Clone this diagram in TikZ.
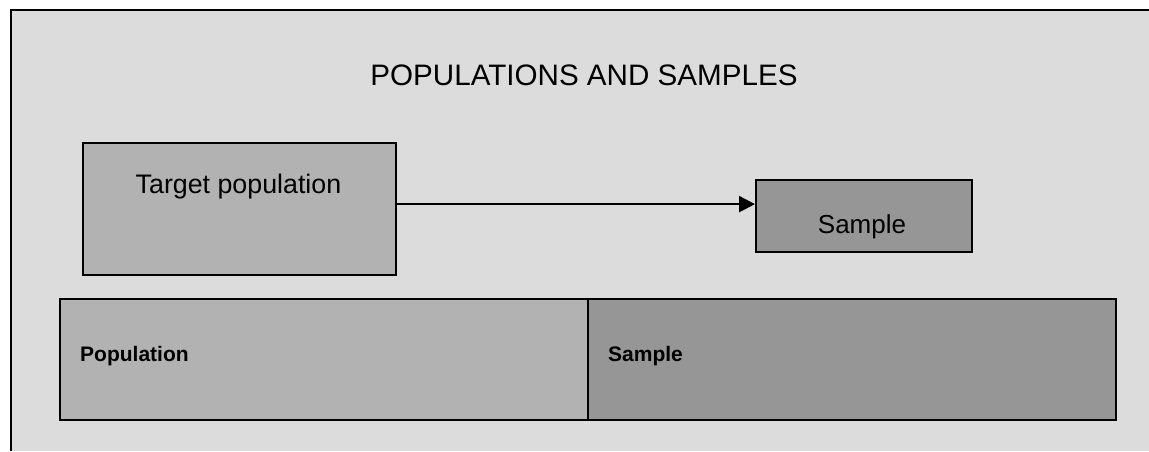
\documentclass[tikz,border=0pt]{standalone}
\usepackage{fontspec}
\setmainfont{Liberation Sans}
\usetikzlibrary{arrows.meta}
\definecolor{bg}{HTML}{DCDCDC}
\definecolor{lightcell}{HTML}{B2B2B2}
\definecolor{darkcell}{HTML}{969696}
\begin{document}
\begin{tikzpicture}[x=1pt,y=-1pt,
  box/.style={draw=black,line width=2.2pt,inner sep=0,anchor=north west},
  lbl/.style={inner sep=0,anchor=base},
  cell/.style={inner sep=0,anchor=base west,font=\fontsize{21}{25}\selectfont\bfseries}]
\useasboundingbox (0,0) rectangle (1149,451);
\fill[white] (0,0) rectangle (1149,451);
\fill[bg] (11,10) rectangle (1149,451);
\draw[line width=2.2pt] (11,451) -- (11,10) -- (1149,10);
\node[lbl,font=\fontsize{29.6}{34}\selectfont] (title) at (584,85) {POPULATIONS AND SAMPLES};
\node[box,fill=lightcell,minimum width=313pt,minimum height=132pt] (target) at (82,142) {};
\node[lbl,font=\fontsize{26.8}{30}\selectfont] (targettext) at (238.5,193) {Target population};
\node[box,fill=darkcell,minimum width=216pt,minimum height=72pt] (sample) at (755,179) {};
\node[lbl,font=\fontsize{26}{30}\selectfont] (sampletext) at (862,233) {Sample};
\draw[line width=2.2pt,-{Triangle[length=16pt,width=16pt]}] ([yshift=5pt]target.east) -- ([yshift=5pt]target.east -| sample.west);
\node[box,fill=lightcell,minimum width=528pt,minimum height=121pt] (popcell) at (59,298) {};
\node[box,fill=darkcell,minimum width=528pt,minimum height=121pt] (samcell) at (587,298) {};
\node[cell] (poptext) at (80,361) {Population};
\node[cell] (samtext) at (608,361) {Sample};
\end{tikzpicture}
\end{document}
